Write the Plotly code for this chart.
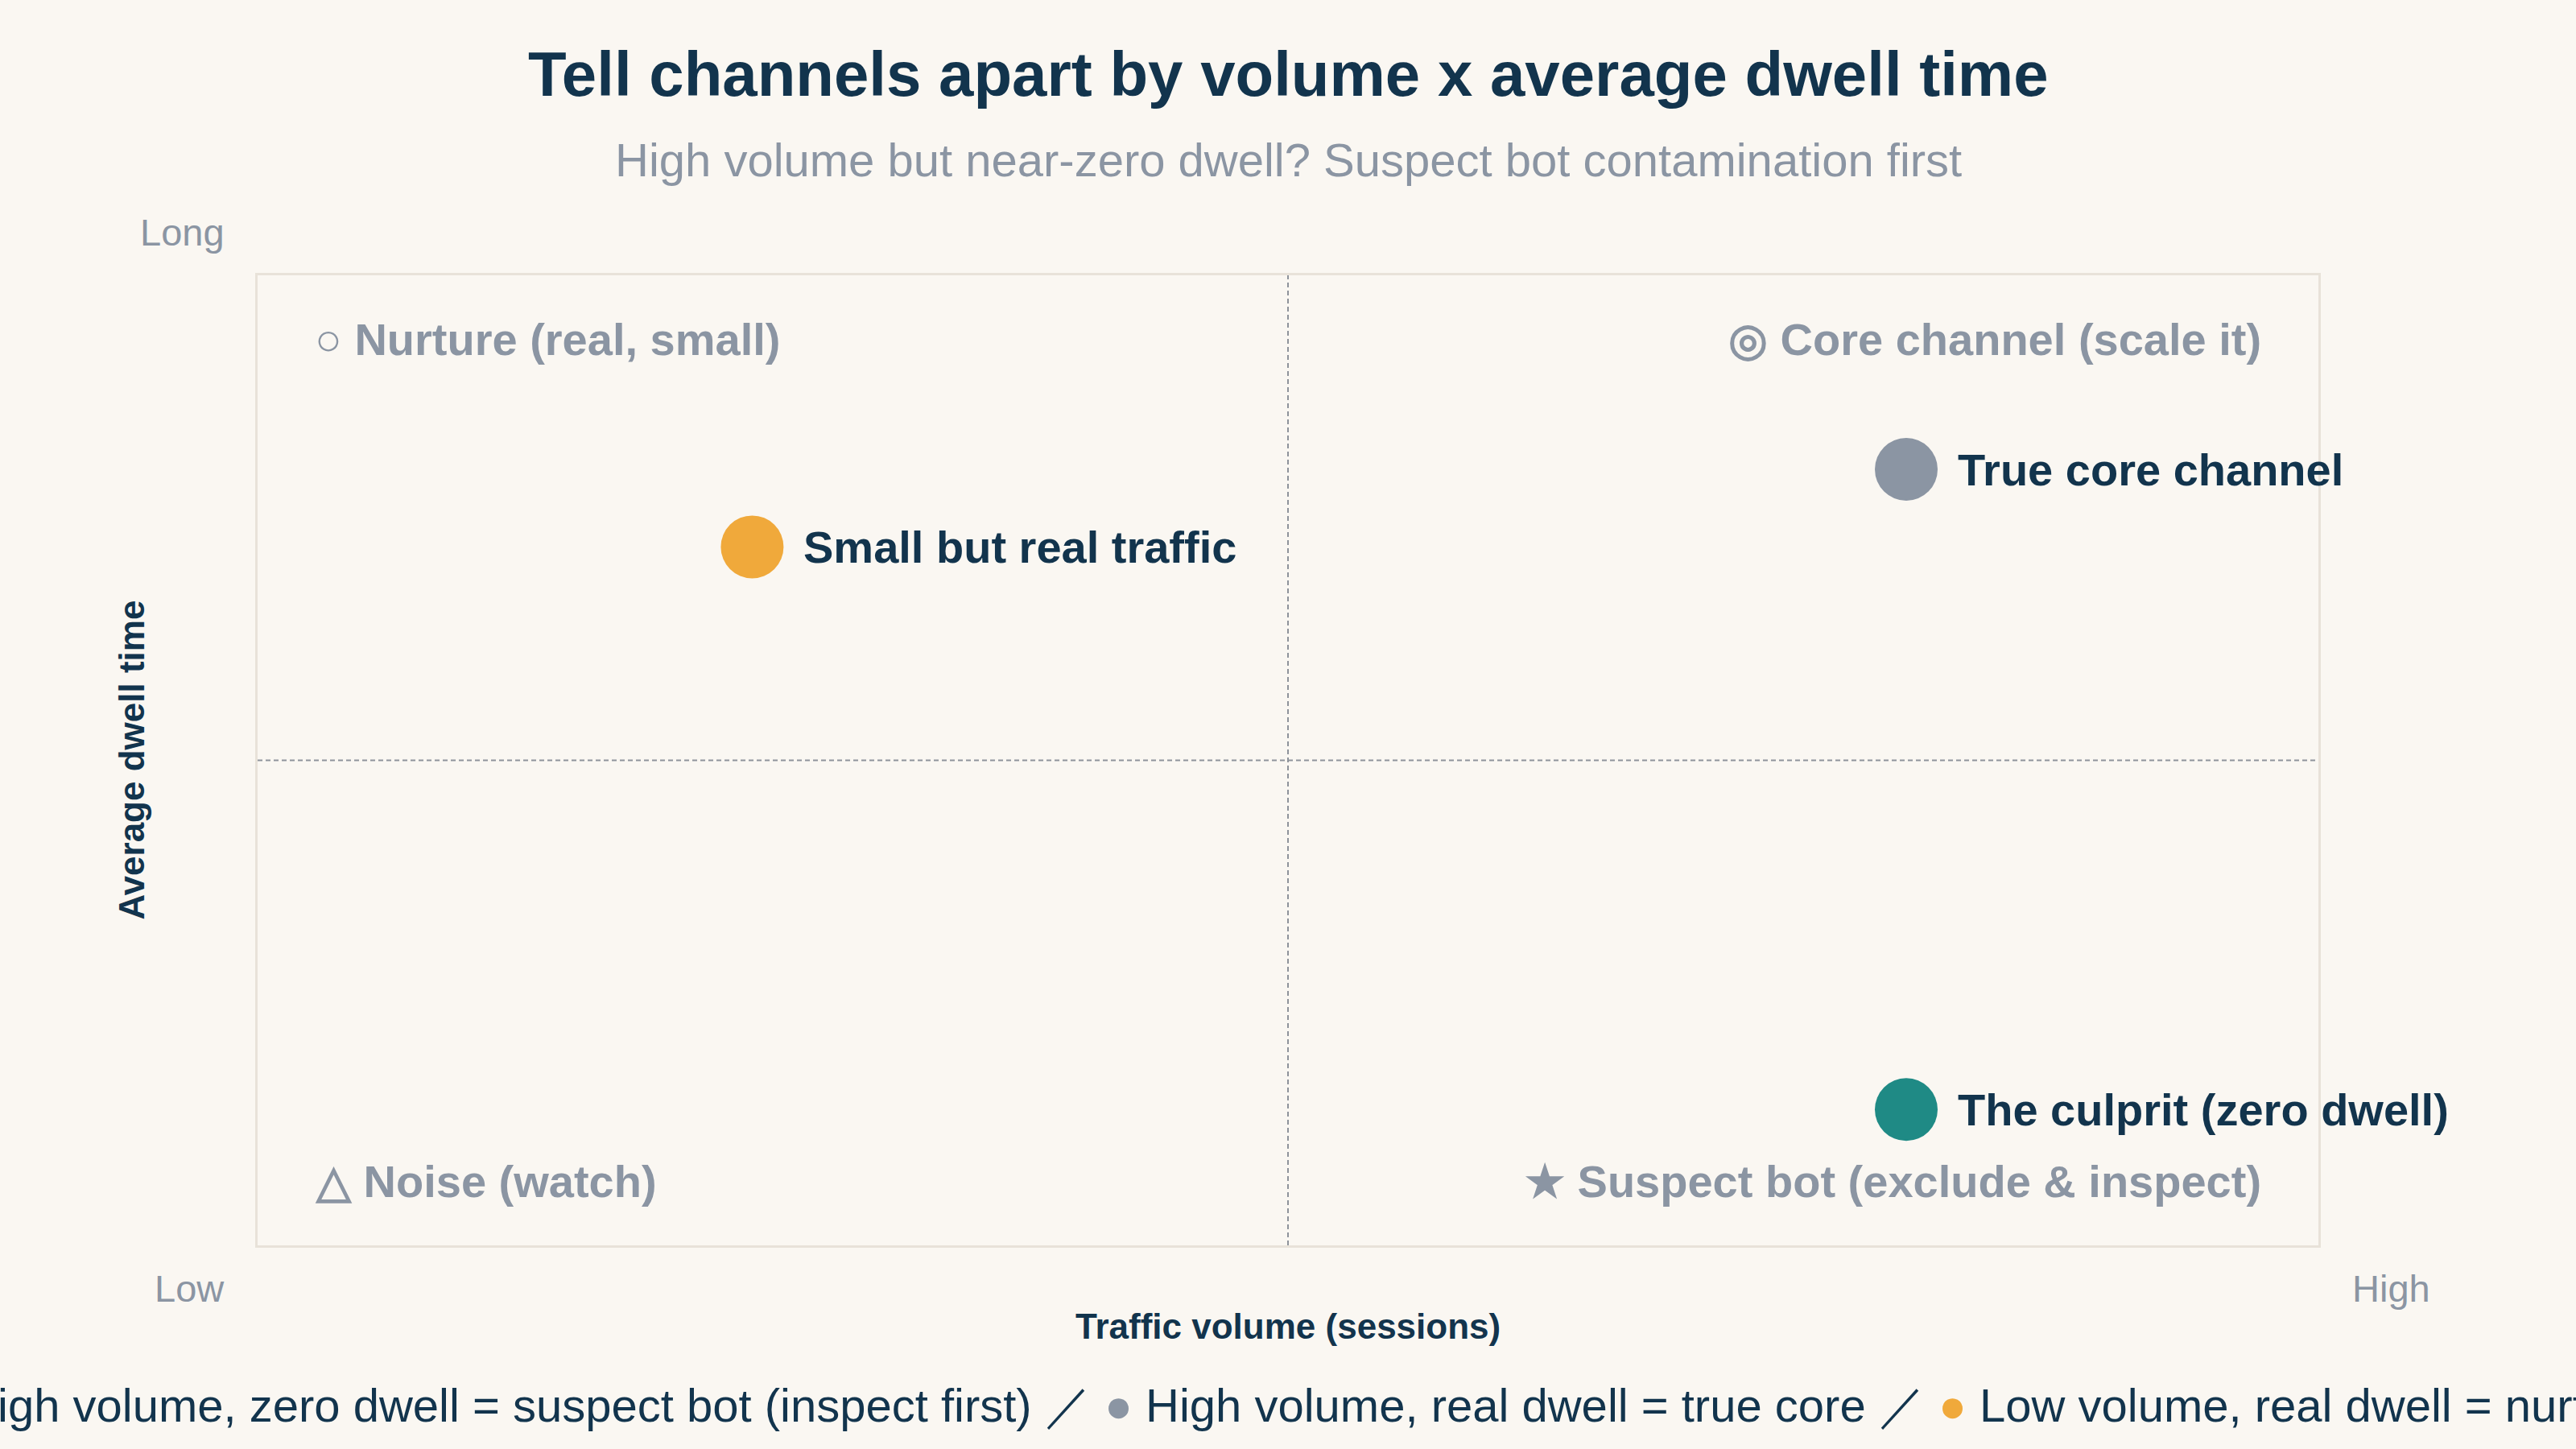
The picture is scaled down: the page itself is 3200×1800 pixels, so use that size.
import plotly.graph_objects as go

# ---- data ----
channels = ["Small but real traffic", "True core channel", "The culprit (zero dwell)"]
volume = [24, 80, 80]          # traffic volume score (0-100)
dwell = [72, 80, 14]           # average dwell score (0-100)
point_colors = ["#F0A93B", "#8B95A3", "#1F8A85"]

quadrant_labels = ["○ Nurture (real, small)", "◎ Core channel (scale it)",
                   "△ Noise (watch)", "★ Suspect bot (exclude & inspect)"]
x_range = [0, 100]
y_range = [0, 100]
x_mid = 50
y_mid = 50

title = "Tell channels apart by volume x average dwell time"
subtitle = "High volume but near-zero dwell? Suspect bot contamination first"
x_title = "Traffic volume (sessions)"
y_title = "Average dwell time"
x_low, x_high, y_high = "Low", "High", "Long"
legend_items = ["High volume, zero dwell = suspect bot (inspect first)",
                "High volume, real dwell = true core",
                "Low volume, real dwell = nurture"]
legend_colors = ["#1F8A85", "#8B95A3", "#F0A93B"]

# ---- style ----
BG = "#FAF7F2"
NAVY = "#12344D"
GRAY = "#8B95A3"
MIDLINE = "#8E939B"
LINE = "#E8E2D9"
FONT = "Liberation Sans, Arial, Helvetica, sans-serif"

fig = go.Figure()
fig.add_trace(go.Scatter(
    x=volume, y=dwell, mode="markers", text=channels,
    marker=dict(size=78, color=point_colors, line=dict(width=0)),
    hoverinfo="text", showlegend=False, cliponaxis=False,
))

# point labels
for name, xv, yv in zip(channels, volume, dwell):
    fig.add_annotation(x=xv, y=yv, xref="x", yref="y", text=f"<b>{name}</b>",
                       showarrow=False, xanchor="left", yanchor="middle", xshift=62,
                       font=dict(size=56, color=NAVY, family=FONT))

# quadrant midlines
fig.add_shape(type="line", xref="x", yref="y", x0=x_mid, x1=x_mid, y0=y_range[0], y1=y_range[1],
              line=dict(color=MIDLINE, width=2, dash="6px,4px"), layer="below")
fig.add_shape(type="line", xref="x", yref="y", x0=x_range[0], x1=x_range[1], y0=y_mid, y1=y_mid,
              line=dict(color=MIDLINE, width=2, dash="6px,4px"), layer="below")

# quadrant labels
q_pos = [(2.7, 93.4, "left"), (97.3, 93.4, "right"), (2.7, 6.6, "left"), (97.3, 6.6, "right")]
for lab, (qx, qy, anc) in zip(quadrant_labels, q_pos):
    fig.add_annotation(x=qx, y=qy, xref="x", yref="y", text=f"<b>{lab}</b>", showarrow=False,
                       xanchor=anc, yanchor="middle", font=dict(size=56, color=GRAY, family=FONT))

# titles
fig.add_annotation(x=0.5, y=1.2075, xref="paper", yref="paper", text=f"<b>{title}</b>",
                   showarrow=False, xanchor="center", yanchor="middle",
                   font=dict(size=78, color=NAVY, family=FONT))
fig.add_annotation(x=0.5, y=1.1195, xref="paper", yref="paper", text=subtitle,
                   showarrow=False, xanchor="center", yanchor="middle",
                   font=dict(size=58, color=GRAY, family=FONT))

# axis end labels
fig.add_annotation(x=-0.0367, y=1.0448, xref="paper", yref="paper", text=y_high, showarrow=False,
                   xanchor="center", yanchor="middle", font=dict(size=47, color=GRAY, family=FONT))
fig.add_annotation(x=-0.0332, y=-0.044, xref="paper", yref="paper", text=x_low, showarrow=False,
                   xanchor="center", yanchor="middle", font=dict(size=47, color=GRAY, family=FONT))
fig.add_annotation(x=1.0355, y=-0.044, xref="paper", yref="paper", text=x_high, showarrow=False,
                   xanchor="center", yanchor="middle", font=dict(size=47, color=GRAY, family=FONT))

# axis titles
fig.add_annotation(x=0.5, y=-0.0838, xref="paper", yref="paper", text=f"<b>{x_title}</b>",
                   showarrow=False, xanchor="center", yanchor="middle",
                   font=dict(size=44, color=NAVY, family=FONT))
fig.add_annotation(x=-0.0613, y=0.5, xref="paper", yref="paper", text=f"<b>{y_title}</b>",
                   showarrow=False, xanchor="center", yanchor="middle", textangle=-90,
                   font=dict(size=44, color=NAVY, family=FONT))

# legend line (overflows the canvas edges, as in the reference)
legend_text = " ／ ".join(f"<span style='color:{c}'>●</span> {t}" for c, t in zip(legend_colors, legend_items))
fig.add_annotation(x=0.5, y=-0.165, xref="paper", yref="paper", text=legend_text,
                   showarrow=False, xanchor="center", yanchor="middle",
                   font=dict(size=58, color=NAVY, family=FONT))

axis_common = dict(showgrid=False, zeroline=False, showticklabels=False, ticks="",
                   showline=True, mirror=True, linecolor=LINE, linewidth=3, fixedrange=True)
fig.update_layout(
    width=3200, height=1800,
    paper_bgcolor=BG, plot_bgcolor=BG,
    margin=dict(l=320, r=320, t=342, b=253),
    xaxis=dict(range=x_range, **axis_common),
    yaxis=dict(range=y_range, **axis_common),
    font=dict(family=FONT, color=NAVY),
    showlegend=False,
)

fig.write_html("out.html")
